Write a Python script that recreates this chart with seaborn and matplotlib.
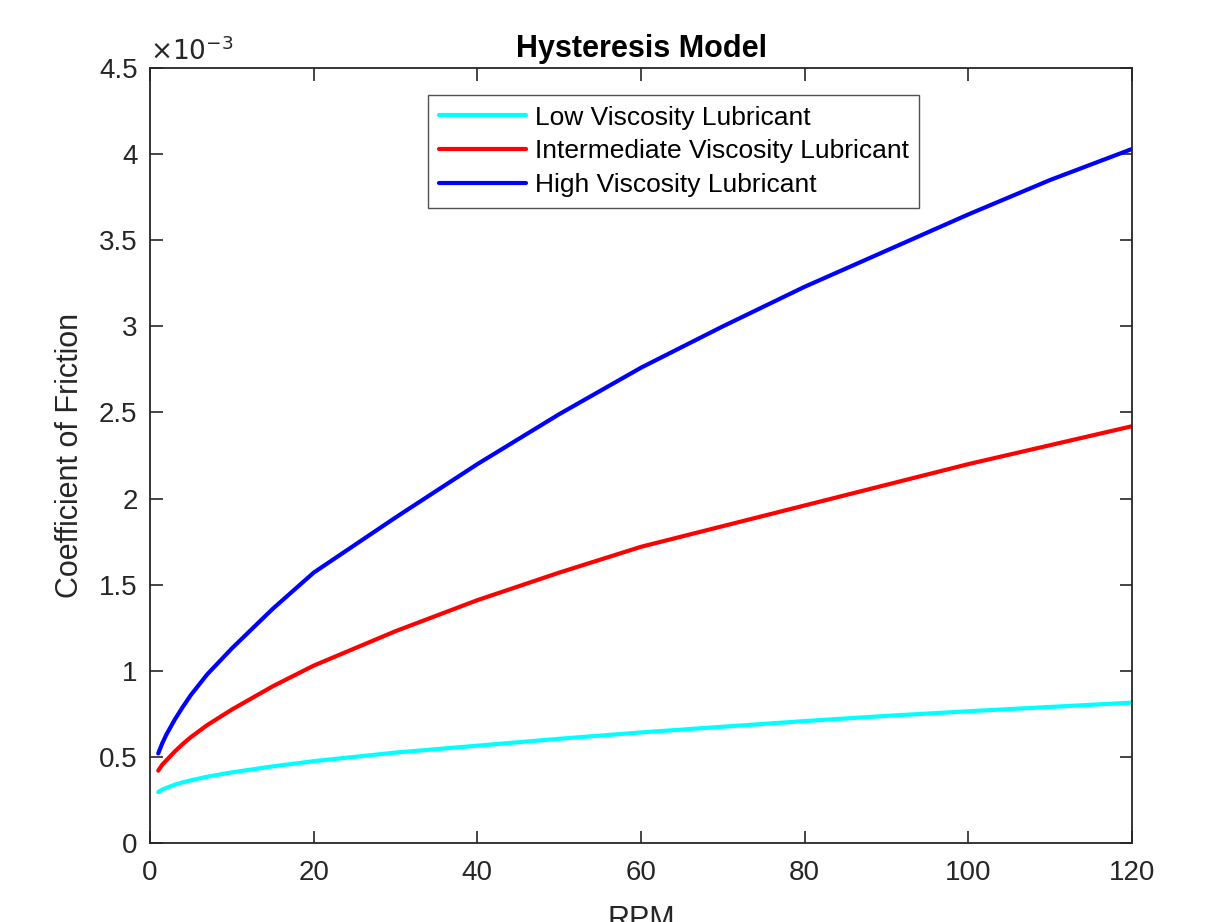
import numpy as np
import pandas as pd
import matplotlib
matplotlib.use('Agg')
import matplotlib.pyplot as plt
import seaborn as sns
from matplotlib.ticker import FuncFormatter

sns.set_theme(style='ticks')
plt.rcParams['font.family'] = ['Liberation Sans', 'DejaVu Sans']

# values (coefficient of friction x1e-3 vs RPM)
rpm = [1, 1.5, 2, 3, 4, 5, 7, 10, 15, 20, 30, 40, 50, 60, 70, 80, 90, 100, 110, 120]
low_visc = [0.296, 0.31, 0.32, 0.338, 0.352, 0.364, 0.385, 0.41, 0.445, 0.475, 0.525,
            0.565, 0.605, 0.642, 0.675, 0.708, 0.738, 0.765, 0.79, 0.815]
mid_visc = [0.42, 0.455, 0.48, 0.53, 0.575, 0.615, 0.685, 0.775, 0.91, 1.03, 1.23,
            1.41, 1.57, 1.72, 1.84, 1.96, 2.08, 2.20, 2.31, 2.42]
high_visc = [0.52, 0.58, 0.63, 0.715, 0.79, 0.86, 0.98, 1.13, 1.36, 1.57, 1.89,
             2.20, 2.49, 2.76, 3.00, 3.23, 3.44, 3.65, 3.85, 4.03]
labels = ['Low Viscosity Lubricant', 'Intermediate Viscosity Lubricant', 'High Viscosity Lubricant']
colors = {labels[0]: '#00ffff', labels[1]: '#ff0000', labels[2]: '#0000ff'}

frames = []
for lab, vals in zip(labels, [low_visc, mid_visc, high_visc]):
    frames.append(pd.DataFrame({'RPM': rpm, 'mu': np.array(vals) * 1e-3, 'series': lab}))
df = pd.concat(frames, ignore_index=True)

fig = plt.figure(figsize=(12.18, 9.22), dpi=100)
ax = fig.add_axes([0.1232, 0.0857, 0.8062, 0.8405])
sns.lineplot(data=df, x='RPM', y='mu', hue='series', palette=colors, lw=3, ax=ax,
             estimator=None, sort=False)

ax.set_xlim(0, 120)
ax.set_ylim(0, 4.5e-3)
ax.set_xticks(np.arange(0, 121, 20))
ax.set_yticks(np.arange(0, 4.51e-3, 0.5e-3))
ax.yaxis.set_major_formatter(FuncFormatter(lambda v, p: f'{v * 1e3:g}'))
ax.tick_params(direction='in', length=9, width=1.2, top=True, right=True,
               labelsize=20, colors='#262626')
ax.tick_params(axis='x', pad=12)
ax.tick_params(axis='y', pad=9)
for s in ax.spines.values():
    s.set_color('#262626')
    s.set_linewidth(1.3)

# the reference has the x label partly cut at the bottom edge
ax.set_xlabel('RPM', fontsize=22, color='#262626', labelpad=14)
ax.set_ylabel('Coefficient of Friction', fontsize=22, color='#262626', labelpad=10)
ax.set_title('Hysteresis Model', fontsize=22, fontweight='bold', color='black', pad=8)
ax.text(0.0, 1.004, r'$\times10^{-3}$', transform=ax.transAxes, fontsize=19,
        color='#262626', ha='left', va='bottom')

leg = ax.legend(loc='upper left', bbox_to_anchor=(0.283, 0.965), fontsize=19,
                frameon=True, fancybox=False, edgecolor='#262626', handlelength=3.3,
                borderpad=0.4, labelspacing=0.37, handletextpad=0.35, borderaxespad=0)
leg.get_frame().set_linewidth(1.0)
for t in leg.get_texts():
    t.set_color('black')

fig.savefig('out.png', dpi=100)
